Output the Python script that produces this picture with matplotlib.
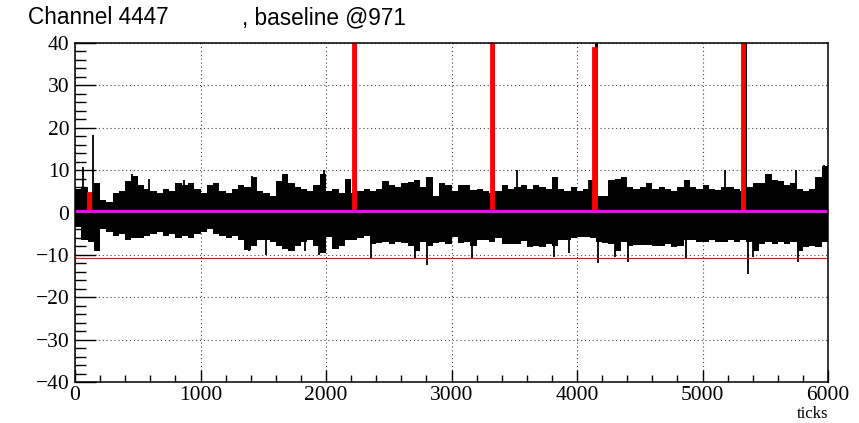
import numpy as np
import matplotlib
matplotlib.use("Agg")
import matplotlib.pyplot as plt
from matplotlib.ticker import MultipleLocator

# waveform envelope, one value per 50-tick bin
bin_width = 50
upper = [
    5.5, 6, 3.5, 7, 3, 2.5, 4.5, 5, 7.5, 8.5, 6.5, 5.5, 5, 4.5, 5.5, 5, 7, 6.5, 7, 5.5,
    4.5, 6.5, 7, 5, 4.5, 5.5, 6.5, 6, 8.4, 5, 4.5, 4, 7.5, 9, 7, 6, 5.5, 5, 6.5, 9,
    5, 5.5, 4.5, 8, 4.5, 5, 5.5, 5, 5.5, 7.5, 6.5, 6, 7, 7.2, 7.6, 6, 8.4, 4, 6.9, 6.5,
    5, 6.5, 6.5, 5.3, 5.5, 5, 4.5, 5, 6.5, 5.5, 6, 6.5, 5.5, 6.5, 6, 5.5, 8.4, 5.5, 5, 6,
    5, 5.5, 7.6, 4, 4, 7.6, 8, 8.4, 6, 5.5, 6, 6.9, 5.5, 6, 5.5, 5, 6, 7.6, 6, 5.5,
    6.5, 5.5, 5.3, 6, 6, 5.5, 5, 6, 6.9, 7, 9.2, 7.6, 7.5, 6.5, 7, 5.5, 5, 5.5, 8.4, 11,
]
lower = [
    -3.5, -6.5, -7, -9, -4, -4.5, -5.5, -5, -6.5, -6, -6, -5.5, -5, -4.5, -5.5, -5, -6, -5.5, -6, -5,
    -4.5, -4, -5, -5.5, -6, -5.5, -6.5, -8.9, -8, -6.5, -6.5, -7, -8, -8.5, -9, -8, -7, -6.5, -8, -9.5,
    -5.7, -8.5, -8, -6.5, -6.5, -6, -5.5, -7.5, -7.3, -7, -7.5, -7, -7.3, -8, -9, -7, -8, -7.3, -7, -7.5,
    -5.7, -7.3, -7, -8, -6.5, -6.5, -7, -6, -7.5, -7.5, -7.5, -6.8, -8.1, -8, -8.1, -7.5, -8, -6.5, -6.5, -6,
    -5.7, -5.7, -6, -7, -7.3, -7.5, -9, -7, -8, -7.7, -7.7, -7.7, -8, -8, -7.5, -8.1, -8, -6.5, -6.5, -7,
    -6.9, -6.5, -7, -6.9, -6.5, -7, -6.5, -7, -9, -7.5, -7, -7.5, -7, -7.5, -7, -9, -8.1, -8, -8.1, -7,
]

# single-sample spikes sticking out of the envelope
spike_ticks = [64, 145, 455, 587, 866, 1410, 1676, 1985, 2157, 2714, 2807, 3520, 3830,
               4098, 4377, 4868, 5180, 5519, 5745, 5970,
               1384, 1520, 1702, 1835, 1941, 2356, 2708, 2805, 3166, 3817, 3936,
               4165, 4300, 4405, 4870, 5360, 5400, 5758]
spike_vals = [10.8, 18.3, 9, 8, 7.6, 8.5, 9, 10, 8, 7.6, 8.4, 10, 8.4,
              7.6, 8.4, 7.6, 10, 9.2, 10, 11.2,
              -9, -10, -9, -9, -10, -10.8, -10.8, -12.4, -10.8, -10.5, -9.5,
              -12, -10.5, -11.7, -10.8, -14.5, -10.5, -11.7]

# pulses: black raw signal and red ROI histogram
black_pulse_lo = [2236, 3336, 4146, 5336]
black_pulse_hi = [2250, 3350, 4168, 5352]
black_pulse_top = [60, 60, 60, 60]
roi_lo = [104, 2214, 3314, 4128, 5312]
roi_hi = [141, 2242, 3342, 4156, 5342]
roi_top = [4.7, 60, 60, 38.8, 60]

baseline = 0.35
threshold = -10.8
n_ticks = 6000

fig = plt.figure(figsize=(8.59, 4.23), dpi=100)
ax = fig.add_axes([75 / 859, 41 / 423, 753 / 859, 339 / 423])

edges = np.arange(len(upper) + 1) * bin_width
ax.stairs(upper, edges, baseline=lower, fill=True, color="black", lw=0)
ax.vlines(spike_ticks, 0, spike_vals, color="black", lw=1.3)
for lo, hi, top in zip(black_pulse_lo, black_pulse_hi, black_pulse_top):
    ax.fill_between([lo, hi], 0, top, color="black", lw=0)

# red ROI histogram (zero outside the regions)
red_edges = [0]
red_vals = []
for lo, hi, top in zip(roi_lo, roi_hi, roi_top):
    red_edges += [lo, hi]
    red_vals += [0, top]
red_edges.append(n_ticks)
red_vals.append(0)
ax.stairs(red_vals, red_edges, fill=True, color="red", lw=0)
ax.stairs(red_vals, red_edges, color="red", lw=1.3)

ax.axhline(baseline, color="#ff00ff", lw=2.2)
ax.axhline(threshold, color="red", lw=0.8)

ax.set_xlim(0, n_ticks)
ax.set_ylim(-40, 40)
ax.xaxis.set_major_locator(MultipleLocator(1000))
ax.xaxis.set_minor_locator(MultipleLocator(200))
ax.yaxis.set_major_locator(MultipleLocator(10))
ax.yaxis.set_minor_locator(MultipleLocator(2))
ax.tick_params(axis="both", which="both", direction="in", width=1, color="black")
ax.tick_params(axis="y", which="major", length=15, pad=4)
ax.tick_params(axis="y", which="minor", length=8)
ax.tick_params(axis="x", which="major", length=8.5, pad=3)
ax.tick_params(axis="x", which="minor", length=5)
for lab in ax.get_xticklabels() + ax.get_yticklabels():
    lab.set_fontfamily("Liberation Serif")
    lab.set_fontsize(15.5)
for sp in ax.spines.values():
    sp.set_linewidth(1.1)

ax.grid(True, which="major", color="#444444", lw=0.8, ls=(0, (1, 2.5)))
ax.set_axisbelow(True)

fig.text(828 / 859, 1 - 414 / 423, "ticks", ha="right", va="center",
         fontfamily="Liberation Serif", fontsize=12)
fig.text(28 / 859, 1 - 18 / 423, "Channel 4447", ha="left", va="center",
         fontfamily="Liberation Sans", fontsize=16.3)
fig.text(242 / 859, 1 - 18 / 423, ", baseline @971", ha="left", va="center",
         fontfamily="Liberation Sans", fontsize=16.3)

fig.savefig("out.png", dpi=100)
